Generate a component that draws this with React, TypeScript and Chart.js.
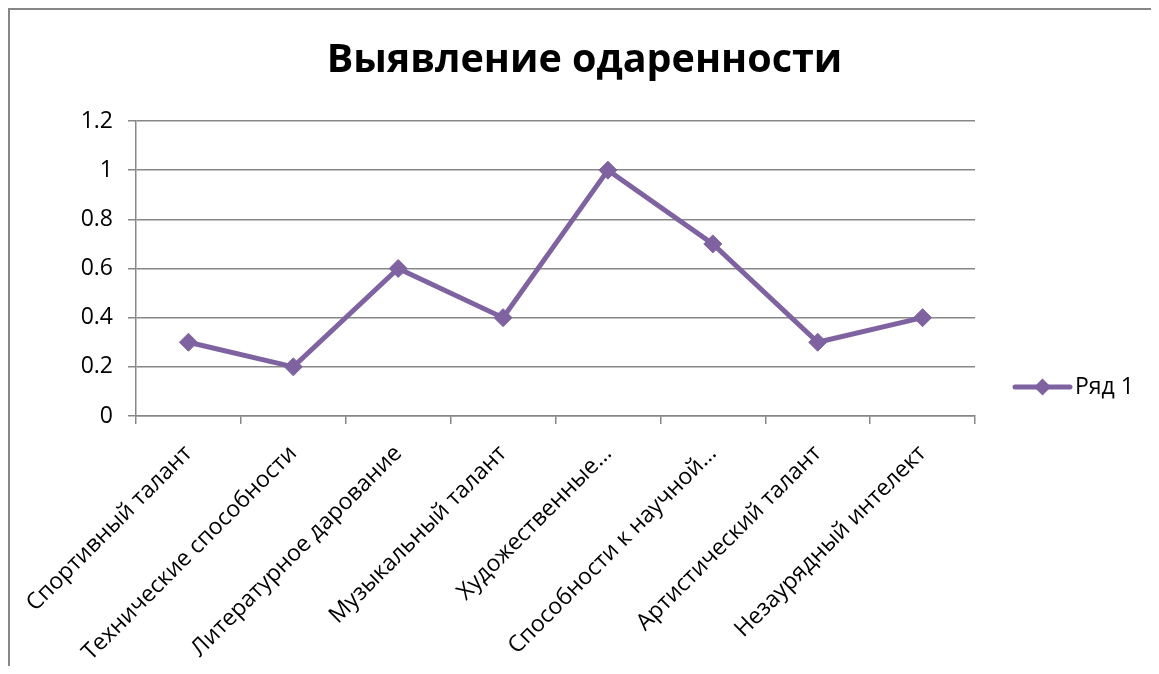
import React, { useEffect, useRef } from "react";
import { Chart, registerables } from "chart.js";

Chart.register(...registerables);

const chartTitle = "Выявление одаренности";
const categories = [
  "Спортивный талант",
  "Технические способности",
  "Литературное дарование",
  "Музыкальный талант",
  "Художественные…",
  "Способности к научной…",
  "Артистический талант",
  "Незаурядный интелект",
];
const seriesName = "Ряд 1";
const seriesValues = [0.3, 0.2, 0.6, 0.4, 1, 0.7, 0.3, 0.4];
const yMin = 0;
const yMax = 1.2;
const yStep = 0.2;

const PURPLE = "#7F63A1";
const GRID = "#878787";
const FONT = "'Open Sans', 'DejaVu Sans', sans-serif";

const legendPlugin = {
  id: "excelLegend",
  afterDraw(chart: any) {
    const ctx = chart.ctx as CanvasRenderingContext2D;
    const ds = chart.data.datasets[0];
    const area = chart.chartArea;
    const x0 = area.right + 40;
    const y = area.bottom - 29;
    ctx.save();
    ctx.strokeStyle = ds.borderColor;
    ctx.lineWidth = 5;
    ctx.lineCap = "round";
    ctx.beginPath();
    ctx.moveTo(x0, y);
    ctx.lineTo(x0 + 55, y);
    ctx.stroke();
    const cx = x0 + 27.5;
    const r = 8.5;
    ctx.fillStyle = ds.borderColor;
    ctx.beginPath();
    ctx.moveTo(cx, y - r);
    ctx.lineTo(cx + r, y);
    ctx.lineTo(cx, y + r);
    ctx.lineTo(cx - r, y);
    ctx.closePath();
    ctx.fill();
    ctx.fillStyle = "#000";
    ctx.font = `23px ${FONT}`;
    ctx.textAlign = "left";
    ctx.textBaseline = "middle";
    ctx.fillText(ds.label, x0 + 60, y);
    ctx.restore();
  },
};

export default function App() {
  const ref = useRef<HTMLCanvasElement | null>(null);

  useEffect(() => {
    if (!ref.current) return;
    const chart = new Chart(ref.current, {
      type: "line",
      data: {
        labels: categories,
        datasets: [
          {
            label: seriesName,
            data: seriesValues,
            borderColor: PURPLE,
            backgroundColor: PURPLE,
            borderWidth: 5,
            pointStyle: "rectRot",
            pointRadius: 9,
            pointBorderWidth: 1,
            pointBackgroundColor: PURPLE,
            pointBorderColor: PURPLE,
            tension: 0,
            yAxisID: "y",
          },
        ],
      },
      options: {
        responsive: false,
        animation: false,
        layout: { padding: 0 },
        plugins: {
          legend: { display: false },
          tooltip: { enabled: false },
          title: {
            display: true,
            text: chartTitle,
            color: "#000",
            font: { family: FONT, size: 39.5, weight: "bold", lineHeight: 1.2 },
            padding: { top: 27, bottom: 36.6 },
          },
        },
        scales: {
          x: {
            type: "category",
            offset: true,
            grid: {
              offset: true,
              drawOnChartArea: false,
              drawTicks: true,
              tickLength: 8,
              color: GRID,
              lineWidth: 1.5,
            },
            border: { color: GRID, width: 1.5 },
            ticks: {
              autoSkip: false,
              minRotation: 45,
              maxRotation: 45,
              padding: 16,
              color: "#000",
              font: { family: FONT, size: 23 },
            },
            afterFit(scale: any) {
              scale.height = 250;
              scale.paddingLeft = 0;
              scale.paddingRight = 0;
            },
          },
          y: {
            min: yMin,
            max: yMax,
            position: "left",
            ticks: {
              stepSize: yStep,
              padding: 15,
              color: "#000",
              font: { family: FONT, size: 23 },
              callback: (v: any) => String(Math.round(Number(v) * 10) / 10),
            },
            grid: {
              color: GRID,
              lineWidth: 1.5,
              tickLength: 8,
            },
            border: { color: GRID, width: 1.5 },
            afterFit(scale: any) {
              scale.width = 126;
            },
          },
          legendSpace: {
            type: "linear",
            position: "right",
            display: true,
            min: 0,
            max: 1,
            ticks: { display: false },
            grid: { display: false, drawTicks: false },
            border: { display: false },
            afterFit(scale: any) {
              scale.width = 184;
              scale.paddingTop = 0;
              scale.paddingBottom = 0;
            },
          },
        },
      },
      plugins: [legendPlugin],
    });
    return () => chart.destroy();
  }, []);

  return (
    <div
      style={{
        width: 1151,
        height: 658,
        borderTop: `2px solid ${GRID}`,
        borderLeft: `2px solid ${GRID}`,
        boxSizing: "border-box",
        background: "#fff",
        overflow: "hidden",
      }}
    >
      <canvas ref={ref} width={1149} height={656} style={{ display: "block" }} />
    </div>
  );
}
